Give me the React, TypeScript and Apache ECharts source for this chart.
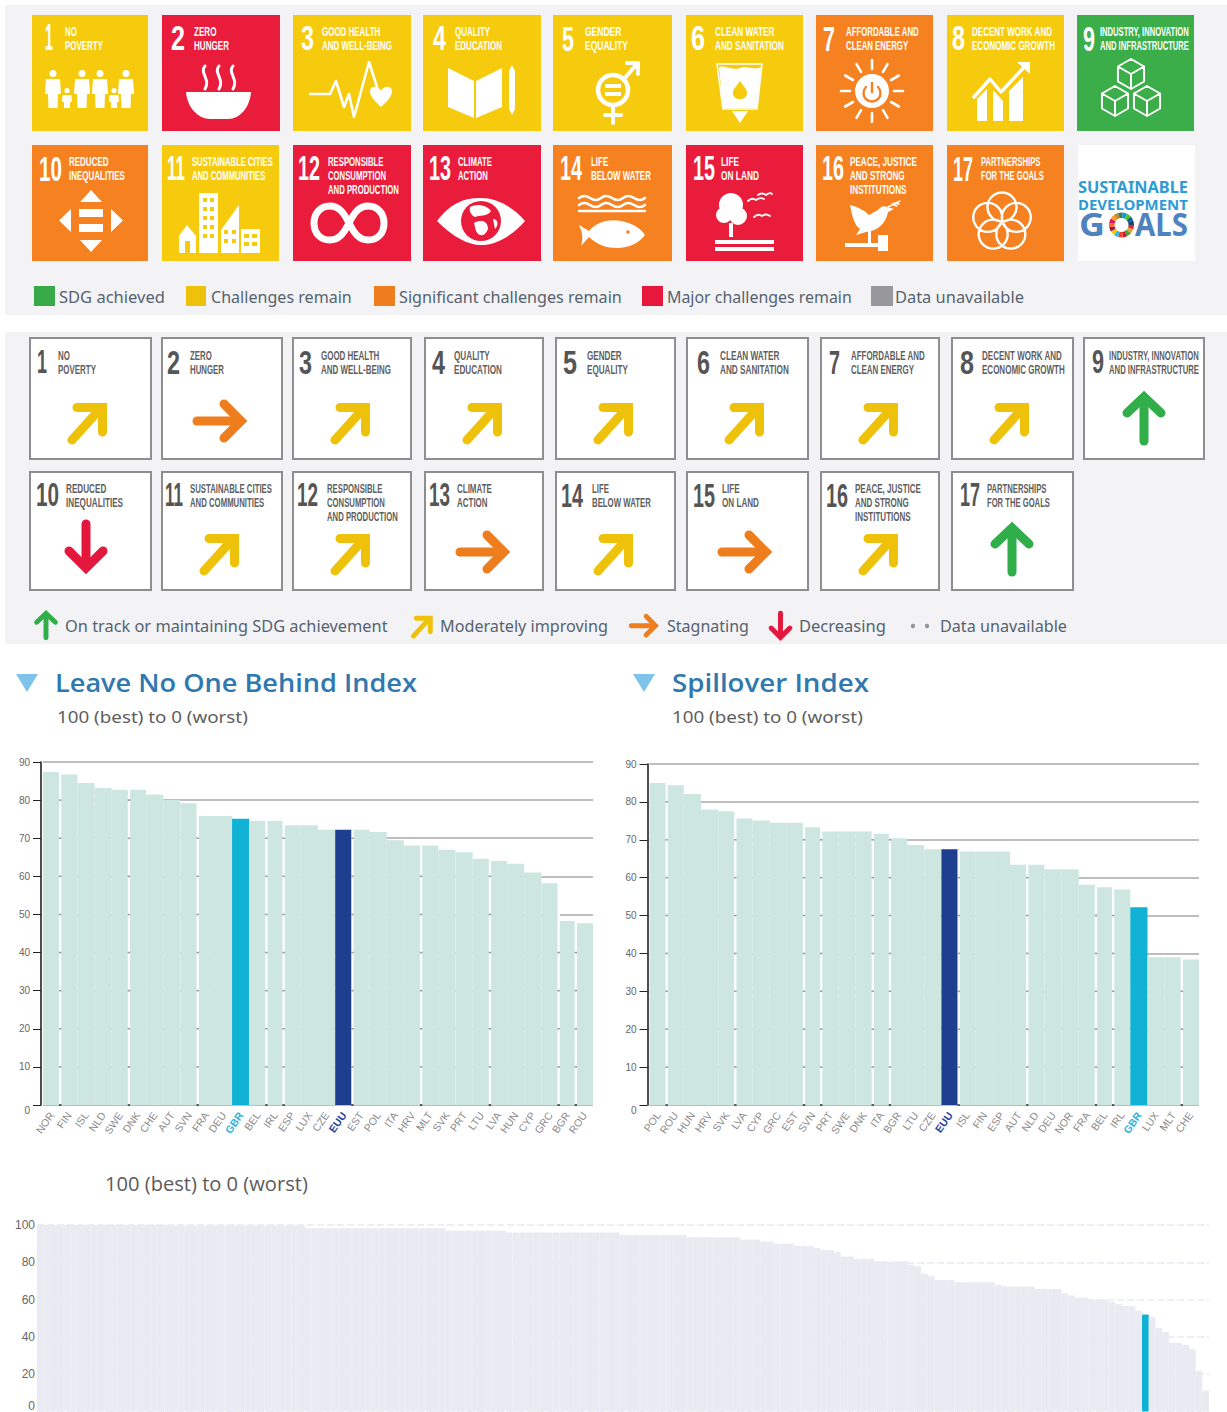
import React, { useEffect, useRef } from "react";
import * as echarts from "echarts";

// ---------- data ----------
const GOAL_LABELS = [
  "NO\nPOVERTY", "ZERO\nHUNGER", "GOOD HEALTH\nAND WELL-BEING", "QUALITY\nEDUCATION", "GENDER\nEQUALITY",
  "CLEAN WATER\nAND SANITATION", "AFFORDABLE AND\nCLEAN ENERGY", "DECENT WORK AND\nECONOMIC GROWTH",
  "INDUSTRY, INNOVATION\nAND INFRASTRUCTURE", "REDUCED\nINEQUALITIES", "SUSTAINABLE CITIES\nAND COMMUNITIES",
  "RESPONSIBLE\nCONSUMPTION\nAND PRODUCTION", "CLIMATE\nACTION", "LIFE\nBELOW WATER", "LIFE\nON LAND",
  "PEACE, JUSTICE\nAND STRONG\nINSTITUTIONS", "PARTNERSHIPS\nFOR THE GOALS",
];
const GOAL_STATUS = ["y", "r", "y", "y", "y", "y", "o", "y", "g", "o", "y", "r", "r", "o", "r", "o", "o"];
const GOAL_TREND = ["d", "r", "d", "d", "d", "d", "d", "d", "u", "v", "d", "d", "r", "d", "r", "d", "u"];
const STATUS_LEGEND = ["SDG achieved", "Challenges remain", "Significant challenges remain", "Major challenges remain", "Data unavailable"];
const TREND_LEGEND = ["On track or maintaining SDG achievement", "Moderately improving", "Stagnating", "Decreasing", "Data unavailable"];

const LNOB_COUNTRIES = ["NOR", "FIN", "ISL", "NLD", "SWE", "DNK", "CHE", "AUT", "SVN", "FRA", "DEU", "GBR", "BEL", "IRL", "ESP", "LUX", "CZE", "EUU", "EST", "POL", "ITA", "HRV", "MLT", "SVK", "PRT", "LTU", "LVA", "HUN", "CYP", "GRC", "BGR", "ROU"];
const LNOB_VALUES = [87.4, 86.7, 84.5, 83.2, 82.7, 82.7, 81.5, 80, 79.2, 75.8, 75.8, 75.1, 74.5, 74.5, 73.4, 73.4, 72.2, 72.2, 72.2, 71.6, 69.5, 68.1, 68.1, 67, 66.3, 64.6, 64, 63.3, 61, 58.2, 48.3, 47.7];
const SPILL_COUNTRIES = ["POL", "ROU", "HUN", "HRV", "SVK", "LVA", "CYP", "GRC", "EST", "SVN", "PRT", "SWE", "DNK", "ITA", "BGR", "LTU", "CZE", "EUU", "ISL", "FIN", "ESP", "AUT", "NLD", "DEU", "NOR", "FRA", "BEL", "IRL", "GBR", "LUX", "MLT", "CHE"];
const SPILL_VALUES = [85, 84.4, 82.1, 78, 77.5, 75.6, 75.1, 74.5, 74.5, 73.3, 72.2, 72.2, 72.2, 71.6, 70.4, 68.6, 67.5, 67.5, 66.9, 66.9, 66.9, 63.4, 63.4, 62.2, 62.2, 58.1, 57.5, 56.9, 52.2, 39, 39, 38.4];
const LNOB_SEAMS = [0, 4, 8, 12, 13, 17, 21, 25, 29, 30];
const SPILL_SEAMS = [0, 4, 8, 9, 12, 13, 17, 21, 25, 26, 30];
const SMALL_TICKS = [0, 10, 20, 30, 40, 50, 60, 70, 80, 90];
const WORLD_HIGHLIGHT = 165;
const WORLD_VALUES = [
  100, 100, 100, 100, 100, 100, 100, 100, 100, 100, 100, 100, 100, 100, 100, 100, 100, 100, 100, 100,
  99.7, 99.7, 99.7, 99.7, 99.7, 99.7, 99.7, 99.7, 99.7, 99.7, 99.7, 99.7, 99.7, 99.7, 99.7, 99.7, 99.7, 99.7, 99.7, 99.7,
  98.2, 98.2, 98.2, 98.2, 98.2, 98.2, 98.2, 98.2, 98.2, 98.2, 98.2, 98.2, 98.2, 98.2, 98.2, 98.2, 98.2, 98.2, 98.2, 98.2, 98.2,
  97, 97, 97, 97, 97, 97, 97, 97, 97,
  96, 96, 96, 96, 96, 96, 96, 96, 96, 96, 96, 96, 96, 96, 96, 96, 96,
  94.7, 94.7, 94.7, 94.7, 94.7, 94.7, 94.7, 94.7, 94.7, 94.7,
  93.4, 93.4, 93.4, 93.4, 93.4, 93.4, 93.4, 93.4,
  92.2, 92.2, 92.2, 91.1, 91.1, 90, 90, 90, 88.8, 88.8, 88.8, 87.6, 86.5, 86.5, 85.4, 83.1, 83.1,
  81.9, 81.9, 81.9, 80.6, 80.6, 80.1, 80.6, 80.6, 78.7, 77.8, 73.9, 72.8, 70.5, 70.5, 70.5,
  69.3, 69.3, 69.3, 69.3, 69.3, 69.3, 68, 67, 67, 67, 67, 67, 65.7, 65.7, 65.7, 65.7,
  63.4, 62.2, 61.1, 61.1, 60, 60, 60, 58.8, 57.5, 56.5, 56.5, 54,
  52, 50.8, 44.9, 42.6, 36.8, 36.8, 35.7, 33.4, 21.8, 11.2,
];
const WORLD_TICKS = [0, 20, 40, 60, 80, 100];

// ---------- palette ----------
const TILE_COLOR: Record<string, string> = { y: "#f6cb0d", r: "#e91c3c", o: "#f68121", g: "#3bae49" };
const LEGEND_COLORS = ["#39aa49", "#eec10a", "#ee7d1d", "#e8173c", "#98989c"];
const ARROW_COLOR: Record<string, string> = { u: "#2fae4a", d: "#eec10a", r: "#ee7d1d", v: "#e4173d" };
const WHEEL = ["#e5243b", "#dda63a", "#4c9f38", "#c5192d", "#ff3a21", "#26bde2", "#fcc30b", "#a21942", "#fd6925", "#dd1367", "#fd9d24", "#bf8b2e", "#3f7e44", "#0a97d9", "#56c02b", "#00689d", "#19486a"];
const PANEL = "#f3f3f6";
const NARROW = '"Liberation Sans"';

// ---------- layout ----------
const TOP_X = [32, 162, 293, 423, 553, 686, 816, 947, 1077, 32, 162, 293, 423, 553, 686, 816, 947];
const TOP_W = [116, 118, 118, 118, 119, 117, 117, 117, 117, 116, 117, 118, 118, 119, 117, 117, 117];
const TOP_NUM = [[45, 8], [171, 14], [301, 13], [433, 13], [562, 12], [691, 14], [823, 12], [952, 13], [1083, 12], [39, 23], [167, 18], [298, 22], [429, 22], [560, 22], [693, 22], [822, 22], [953, 20]];
const TOP_LAB = [[65, 38], [194, 35], [322, 70], [455, 47], [585, 43], [715, 69], [846, 73], [972, 83], [1100, 89], [69, 56], [192, 81], [328, 71], [458, 34], [591, 60], [721, 38], [850, 67], [981, 63]];
const LOW_X = [30, 162, 293, 425, 556, 687, 821, 952, 1084, 30, 162, 293, 425, 556, 687, 821, 952];
const LOW_W = [121, 120, 118, 118, 119, 121, 118, 121, 120, 121, 120, 118, 118, 119, 121, 118, 121];
const LOW_NUM = [[37, 10], [167, 13], [299, 13], [432, 13], [563, 14], [697, 13], [829, 11], [960, 14], [1092, 12], [36, 23], [165, 18], [297, 21], [429, 21], [561, 22], [693, 22], [826, 22], [960, 20]];
const LOW_LAB = [[58, 38], [190, 34], [321, 70], [454, 48], [587, 41], [720, 69], [851, 74], [982, 83], [1109, 90], [66, 57], [190, 82], [327, 71], [457, 35], [592, 59], [722, 37], [855, 66], [987, 63]];

// ---------- helpers ----------
const measure = document.createElement("canvas").getContext("2d") as CanvasRenderingContext2D;
const fit = (text: string, font: string, w: number) => {
  measure.font = font;
  const widest = Math.max(...text.split("\n").map((l) => measure.measureText(l).width));
  return w / widest;
};
const txt = (text: string, x: number, y: number, font: string, fill: string, w?: number, lineHeight?: number): any => ({
  type: "text", x, y, scaleX: w ? fit(text, font, w) : 1, silent: true,
  style: { text, font, fill, align: "left", verticalAlign: "top", ...(lineHeight ? { lineHeight } : {}) },
});
const shapeNames = new Map<string, string>();
const pathShape = (d: string) => {
  if (!shapeNames.has(d)) {
    const name = "sdgp" + shapeNames.size;
    echarts.graphic.registerShape(name, echarts.graphic.extendPath(d, {}) as any);
    shapeNames.set(d, name);
  }
  return shapeNames.get(d) as string;
};
const circ = (cx: number, cy: number, r: number) => `M${cx - r} ${cy}a${r} ${r} 0 1 0 ${2 * r} 0a${r} ${r} 0 1 0 ${-2 * r} 0Z`;
const adult = (c: number) => circ(c, 58.5, 3.5) + `M${c - 7} 64L${c + 7} 64L${c + 8} 79L${c + 5} 79L${c + 4.5} 93L${c - 4.5} 93L${c - 5} 79L${c - 8} 79Z`;
const child = (c: number) => circ(c, 75.5, 2.6) + `M${c - 4.5} 80L${c + 4.5} 80L${c + 5} 87L${c + 3} 87L${c + 3} 93L${c - 3} 93L${c - 3} 87L${c - 5} 87Z`;
const cube = (cx: number, cy: number, r: number) => {
  const h = r * 0.87;
  return `M${cx} ${cy - r}L${cx + h} ${cy - r / 2}L${cx + h} ${cy + r / 2}L${cx} ${cy + r}L${cx - h} ${cy + r / 2}L${cx - h} ${cy - r / 2}ZM${cx - h} ${cy - r / 2}L${cx} ${cy}L${cx + h} ${cy - r / 2}M${cx} ${cy}L${cx} ${cy + r}`;
};
const rays = () => {
  let d = "";
  for (let i = 0; i < 12; i++) {
    const a = (i * Math.PI) / 6;
    d += `M${56 + 22 * Math.cos(a)} ${76 + 22 * Math.sin(a)}L${56 + 31 * Math.cos(a)} ${76 + 31 * Math.sin(a)}`;
  }
  return d;
};
const petals = () => {
  let d = "";
  for (let i = 0; i < 5; i++) {
    const a = (i * 2 * Math.PI) / 5 - Math.PI / 2;
    d += circ(55 + 15 * Math.cos(a), 77 + 15 * Math.sin(a), 14.5);
  }
  return d;
};
type Op = [string, string, number?];
const ICONS: Op[][] = [
  [[adult(21) + child(35) + adult(50) + adult(68) + child(82) + adult(94), "f"]],
  [["M24 77H89C88 92 78 104 66 104H48C36 104 25 92 24 77Z", "f"], ["M43 51C37 58 49 64 43 74M57 51C51 58 63 64 57 74M71 51C65 58 77 64 71 74", "s", 3]],
  [["M17 79H37L43 66L51 92L56 79L61 102L76 47L84 72", "s", 2.6], ["M88 92C78 83 77 79 77 76C77 71 85 70 88 76C91 70 99 71 99 76C99 79 98 83 88 92Z", "f"]],
  [["M25 53L51 66V103L25 92ZM53 66L79 53V92L53 103ZM86 56L89 50L92 56V94L89 100L86 94Z", "f"]],
  [[circ(60, 75, 15), "s", 4.5], ["M52 69H68V73H52ZM52 77H68V81H52Z", "f"], ["M71 64L84 49M74 48H85V59M60 90V108M52 100H68", "s", 4]],
  [["M33 52L37 93H71L75 52C66 56 62 50 54 53C46 56 40 50 33 52Z", "f"], ["M31 49H76L71 94H37Z", "s", 1.6], ["M54 66C58 72 61 74 61 78C61 82 58 84 54 84C50 84 47 82 47 78C47 74 50 72 54 66Z", "bf"], ["M46 96H62L54 108Z", "f"]],
  [[rays(), "s", 2.6], [circ(56, 76, 17), "f"], ["M50 72A8.5 8.5 0 1 0 62 72M56 68V77", "bs", 2.4]],
  [["M30 84L40 74V106H30ZM46 75L56 86V106H46ZM62 76L76 62V106H62Z", "f"], ["M27 82L43 64L54 77L80 49", "s", 3.4], ["M70 47H83V59Z", "f"]],
  [[cube(54, 59, 15) + cube(38, 86, 15) + cube(70, 86, 15), "s", 2]],
  [["M59 45L70 57H48ZM59 107L70 95H48ZM27 75.5L39 64V87ZM91 75.5L79 64V87ZM47 64H71V72H47ZM47 79H71V87H47Z", "f"]],
  [["M25 80L34 91V108H17V91ZM37 48H56V108H37ZM59 85L77 60V108H59ZM79 84H98V108H79Z", "f"], ["M41 53H45V57H41ZM48 53H52V57H48ZM41 62H45V66H41ZM48 62H52V66H48ZM41 71H45V75H41ZM48 71H52V75H48ZM41 80H45V84H41ZM48 80H52V84H48ZM41 89H45V93H41ZM48 89H52V93H48ZM62 85H66V89H62ZM70 85H74V89H70ZM62 94H66V98H62ZM70 94H74V98H70ZM82 89H87V93H82ZM90 89H95V93H90ZM82 97H87V101H82ZM90 97H95V101H90ZM23 96H28V108H23Z", "bf"]],
  [["M56 78C50 66 45 61 37 61C27 61 21 69 21 78C21 88 27 95 37 95C45 95 50 90 56 78C62 66 67 61 75 61C85 61 91 69 91 78C91 88 85 95 75 95C67 95 62 90 56 78", "s", 7]],
  [["M14 76C30 55 45 53 58 53C72 53 88 60 102 76C88 92 72 100 58 100C45 100 30 92 14 76Z", "f"], [circ(58, 76, 20), "bf"], ["M47 62C54 58 64 60 68 66C64 72 56 70 52 72C48 70 46 66 47 62ZM51 78C58 74 65 76 65 84C62 92 56 92 53 86ZM70 74C75 74 76 80 72 84Z", "f"]],
  [["M26 53q5 -4 11 0t11 0t11 0t11 0t11 0t11 0M26 60q5 -4 11 0t11 0t11 0t11 0t11 0t11 0M26 66H92", "s", 2.6], ["M26 80L36 86C44 76 58 74 68 76C80 78 88 84 92 90C86 98 76 103 64 103C54 103 44 100 36 92L28 101C30 94 30 88 26 80Z", "f"], [circ(75, 87, 1.8), "bf"]],
  [[circ(45, 60, 12) + circ(38, 70, 8) + circ(52, 71, 9), "f"], ["M43 78H47V92H43ZM29 95H88V99H29ZM29 102H88V106H29Z", "f"], ["M62 56Q66 52 70 55Q74 52 78 54M72 50Q76 47 80 50Q84 47 86 49M68 72Q72 68 76 71Q80 68 84 71", "s", 1.8]],
  [["M34 60C42 62 48 65 53 70L62 65C64 62 68 60 71 62L78 64L72 67C70 78 62 86 50 87L40 90L44 84C38 80 36 70 34 60Z", "f"], ["M72 62L84 56M76 59L81 61M78 58L83 59", "s", 1.5], ["M29 98H62V102H29ZM62 90H72V106H62ZM52 86H55V98H52Z", "f"]],
  [[petals(), "s", 2.4]],
];
const opEl = (op: Op, bg: string): any => {
  const [d, mode, w] = op;
  const color = mode[0] === "b" ? bg : "#fff";
  const stroke = mode.endsWith("s");
  return { type: pathShape(d), silent: true, style: stroke ? { fill: "none", stroke: color, lineWidth: w, lineCap: "round", lineJoin: "round" } : { fill: color } };
};
const poly = (points: number[][], color: string, w: number, join = "round"): any => ({
  type: "polyline", silent: true, shape: { points }, style: { fill: "none", stroke: color, lineWidth: w, lineCap: "round", lineJoin: join },
});
const arrow = (kind: string, ox: number, oy: number, s = 1): any => {
  const c = ARROW_COLOR[kind];
  const lw = 9;
  let parts: any[] = [];
  if (kind === "d") parts = [poly([[42, 102], [70, 71]], c, lw), poly([[47, 69.5], [72.5, 69.5], [72.5, 94]], c, lw, "miter")];
  if (kind === "r") parts = [poly([[35, 83], [76, 83]], c, lw), poly([[62, 66], [79, 83], [62, 100]], c, lw, "miter")];
  if (kind === "u") parts = [poly([[60, 63], [60, 103]], c, lw), poly([[43, 75], [60, 59], [77, 75]], c, lw, "miter")];
  if (kind === "v") parts = [poly([[56, 55], [56, 95]], c, lw), poly([[39, 82], [56, 99], [73, 82]], c, lw, "miter")];
  return { type: "group", x: ox, y: oy, scaleX: s, scaleY: s, children: parts };
};

// ---------- graphic ----------
function buildGraphic() {
  const els: any[] = [];
  els.push({ type: "rect", silent: true, shape: { x: 5, y: 5, width: 1222, height: 310 }, style: { fill: PANEL } });
  els.push({ type: "rect", silent: true, shape: { x: 5, y: 332, width: 1222, height: 312 }, style: { fill: PANEL } });
  GOAL_LABELS.forEach((label, i) => {
    const row = i < 9 ? 0 : 1;
    const y = row ? 145 : 15;
    const bg = TILE_COLOR[GOAL_STATUS[i]];
    els.push({ type: "rect", silent: true, shape: { x: TOP_X[i], y, width: TOP_W[i], height: 116 }, style: { fill: bg } });
    els.push({ type: "group", x: TOP_X[i], y, children: ICONS[i].map((op) => opEl(op, bg)) });
    els.push(txt(String(i + 1), TOP_NUM[i][0], y + 5, `bold 36px ${NARROW}`, "#fff", TOP_NUM[i][1]));
    els.push(txt(label, TOP_LAB[i][0], y + 9.5, `bold 13px ${NARROW}`, "#fff", TOP_LAB[i][1], 13.7));
  });
  // logo tile
  els.push({ type: "rect", silent: true, shape: { x: 1078, y: 145, width: 117, height: 116 }, style: { fill: "#fff" } });
  els.push(txt("SUSTAINABLE", 1078, 179, `bold 16px "Noto Sans"`, "#2e9bd6", 110));
  els.push(txt("DEVELOPMENT", 1078, 196, `bold 15px "Noto Sans"`, "#2e9bd6", 110));
  els.push(txt("G", 1079, 207, `bold 33px "Noto Sans"`, "#4f83c0", 26));
  els.push(txt("O", 1109, 207, `bold 33px "Noto Sans"`, "#4f83c0", 25));
  els.push(txt("ALS", 1135, 207, `bold 33px "Noto Sans"`, "#4f83c0", 53));
  els.push({ type: "circle", silent: true, shape: { cx: 1121.5, cy: 225, r: 13 }, style: { fill: "#fff" } });
  WHEEL.forEach((c, i) => {
    const step = (Math.PI * 2) / WHEEL.length;
    els.push({ type: "sector", silent: true, shape: { cx: 1121.5, cy: 225, r: 12.5, r0: 7, startAngle: i * step, endAngle: (i + 1) * step }, style: { fill: c } });
  });
  // status legend
  const statusX = [[34, 21, 59, 106], [186, 20, 211, 141], [374, 21, 399, 223], [642, 21, 667, 185], [871, 22, 895, 129]];
  STATUS_LEGEND.forEach((t, i) => {
    const [bx, bw, tx, tw] = statusX[i];
    els.push({ type: "rect", silent: true, shape: { x: bx, y: 286, width: bw, height: 20 }, style: { fill: LEGEND_COLORS[i] } });
    els.push(txt(t, tx, 289, `16px "Noto Sans"`, "#55626f", tw));
  });
  // trend tiles
  GOAL_LABELS.forEach((label, i) => {
    const row = i < 9 ? 0 : 1;
    const y = row ? 472 : 338;
    const h = row ? 118 : 121;
    els.push({ type: "rect", silent: true, shape: { x: LOW_X[i], y, width: LOW_W[i], height: h }, style: { fill: "#fff", stroke: "#8e8e8e", lineWidth: 2 } });
    els.push(txt(String(i + 1), LOW_NUM[i][0], y + (row ? 6.5 : 7.5), `bold 33px ${NARROW}`, "#555", LOW_NUM[i][1]));
    els.push(txt(label, LOW_LAB[i][0], y + (row ? 9.5 : 11), `bold 12px ${NARROW}`, "#5f5f5f", LOW_LAB[i][1], 14));
    els.push(arrow(GOAL_TREND[i], LOW_X[i], row ? y - 3 : y));
  });
  // trend legend
  const trendX = [[65, 323], [440, 168], [667, 82], [799, 87], [940, 127]];
  TREND_LEGEND.forEach((t, i) => els.push(txt(t, trendX[i][0], 618, `16px "Noto Sans"`, "#55626f", trendX[i][1])));
  els.push(arrow("u", 13, 581, 0.55));
  els.push(arrow("d", 390.4, 580, 0.55));
  els.push(arrow("r", 612, 580, 0.55));
  els.push(arrow("v", 749.7, 583, 0.55));
  els.push({ type: "circle", silent: true, shape: { cx: 913, cy: 626, r: 2.2 }, style: { fill: "#98989c" } });
  els.push({ type: "circle", silent: true, shape: { cx: 927, cy: 626, r: 2.2 }, style: { fill: "#98989c" } });
  // headings
  [[16, 55, 362, "Leave No One Behind Index", 57], [633, 672, 197, "Spillover Index", 672]].forEach(([tx, hx, hw, title, sx]: any) => {
    els.push({ type: "polygon", silent: true, shape: { points: [[tx, 674], [tx + 22, 674], [tx + 11, 692]] }, style: { fill: "#7fc3ea" } });
    els.push(txt(title, hx, 670, `600 25px "Open Sans"`, "#2f78b0", hw));
    els.push(txt("100 (best) to 0 (worst)", sx, 708, `17px "Noto Sans"`, "#5e5e5e", 191));
  });
  els.push(txt("100 (best) to 0 (worst)", 105, 1174, `20px "Open Sans"`, "#5b5b5b", 203));
  return els;
}

// ---------- series helpers ----------
const coloured = (values: number[], cats: string[]) =>
  values.map((value, i) => ({
    value,
    itemStyle: { color: cats[i] === "GBR" ? "#11b2d6" : cats[i] === "EUU" ? "#1e3f8f" : "#cde7e0" },
  }));
const seamSeries = (seams: number[], values: number[], xIndex: number) => ({
  type: "custom", xAxisIndex: xIndex, yAxisIndex: xIndex, z: 5, silent: true, clip: false,
  data: seams.map((i) => [i, values[i]]),
  encode: { x: 0, y: 1 },
  renderItem: (_p: any, api: any) => {
    const i = api.value(0);
    const a = api.coord([i, 0]);
    const b = api.coord([i + 1, 0]);
    const x = (a[0] + b[0]) / 2;
    const top = api.coord([i, Math.max(values[i], values[i + 1])])[1];
    const children: any[] = [{ type: "rect", shape: { x: x - 1.1, y: top, width: 2.2, height: a[1] - top }, style: { fill: "#fff" } }];
    SMALL_TICKS.forEach((t) => {
      if (t <= Math.min(values[i], values[i + 1])) {
        const py = api.coord([i, t])[1];
        children.push({ type: "rect", shape: { x: x - 1.2, y: py - 0.8, width: 2.4, height: 1.6 }, style: { fill: t === 0 ? "#333" : "#999" } });
      }
    });
    return { type: "group", children };
  },
});
const richLabels = {
  b: { fontFamily: NARROW, fontSize: 10.5, color: "#8a8a8a" },
  gbr: { fontFamily: NARROW, fontSize: 10.5, color: "#2bb4da", fontWeight: "bold" },
  eu: { fontFamily: NARROW, fontSize: 10.5, color: "#2b459c", fontWeight: "bold" },
};
const smallX = (cats: string[], gridIndex: number) => ({
  type: "category", gridIndex, data: cats,
  axisLine: { show: false }, axisTick: { show: false }, splitLine: { show: false },
  axisLabel: {
    interval: 0, rotate: 55, margin: 8, hideOverlap: false,
    formatter: (v: string) => `{${v === "GBR" ? "gbr" : v === "EUU" ? "eu" : "b"}|${v}}`,
    rich: richLabels,
  },
});
const smallY = (gridIndex: number) => ({
  type: "value", gridIndex, min: 0, max: 90, interval: 10, offset: 2,
  axisLine: { show: true, lineStyle: { color: "#222", width: 1.6 } },
  axisTick: { show: true, length: 8, lineStyle: { color: "#222", width: 1 } },
  axisLabel: { margin: 11, fontFamily: NARROW, fontSize: 10, color: "#666", showMinLabel: true, showMaxLabel: true, verticalAlignMinLabel: "top" },
  splitLine: { show: true, lineStyle: { color: "#a9a9a9", width: 1.5 } },
});

export default function App() {
  const ref = useRef<HTMLDivElement>(null);
  useEffect(() => {
    const chart = echarts.init(ref.current as HTMLDivElement, undefined, { renderer: "svg" });
    chart.setOption({
      animation: false,
      backgroundColor: "#fff",
      graphic: { elements: buildGraphic() },
      grid: [
        { left: 43, top: 762, width: 550, height: 343, containLabel: false, outerBoundsMode: "none" },
        { left: 649.5, top: 764, width: 549.5, height: 341, containLabel: false, outerBoundsMode: "none" },
        { left: 37, top: 1225, width: 1172, height: 186.5, containLabel: false, outerBoundsMode: "none" },
      ],
      xAxis: [
        smallX(LNOB_COUNTRIES, 0),
        smallX(SPILL_COUNTRIES, 1),
        { type: "category", gridIndex: 2, data: WORLD_VALUES.map((_, i) => String(i + 1)), axisLine: { show: false }, axisTick: { show: false }, axisLabel: { show: false } },
      ],
      yAxis: [
        smallY(0),
        smallY(1),
        {
          type: "value", gridIndex: 2, min: 0, max: 100, interval: 20,
          axisLine: { show: false }, axisTick: { show: false },
          axisLabel: { margin: 2, fontFamily: NARROW, fontSize: 12, color: "#666", verticalAlignMinLabel: "bottom", formatter: (v: number) => (WORLD_TICKS.includes(v) ? String(v) : "") },
          splitLine: { show: true, lineStyle: { color: "#e9eaf2", width: 1.6, type: [7, 3] } },
        },
      ],
      series: [
        { type: "bar", name: "Leave No One Behind Index", xAxisIndex: 0, yAxisIndex: 0, barWidth: "100%", data: coloured(LNOB_VALUES, LNOB_COUNTRIES), silent: true },
        { type: "bar", name: "Spillover Index", xAxisIndex: 1, yAxisIndex: 1, barWidth: "100%", data: coloured(SPILL_VALUES, SPILL_COUNTRIES), silent: true },
        {
          type: "bar", name: "World", xAxisIndex: 2, yAxisIndex: 2, barWidth: "100%", silent: true,
          data: WORLD_VALUES.map((value, i) => {
            const color = i === WORLD_HIGHLIGHT ? "#0fb1d6" : "#e9eaf2";
            return { value, itemStyle: { color, borderColor: color, borderWidth: 1 } };
          }),
        },
        seamSeries(LNOB_SEAMS, LNOB_VALUES, 0),
        seamSeries(SPILL_SEAMS, SPILL_VALUES, 1),
      ],
    });
    return () => chart.dispose();
  }, []);
  return <div ref={ref} style={{ position: "fixed", left: 0, top: 0, width: 1227, height: 1412 }} />;
}
